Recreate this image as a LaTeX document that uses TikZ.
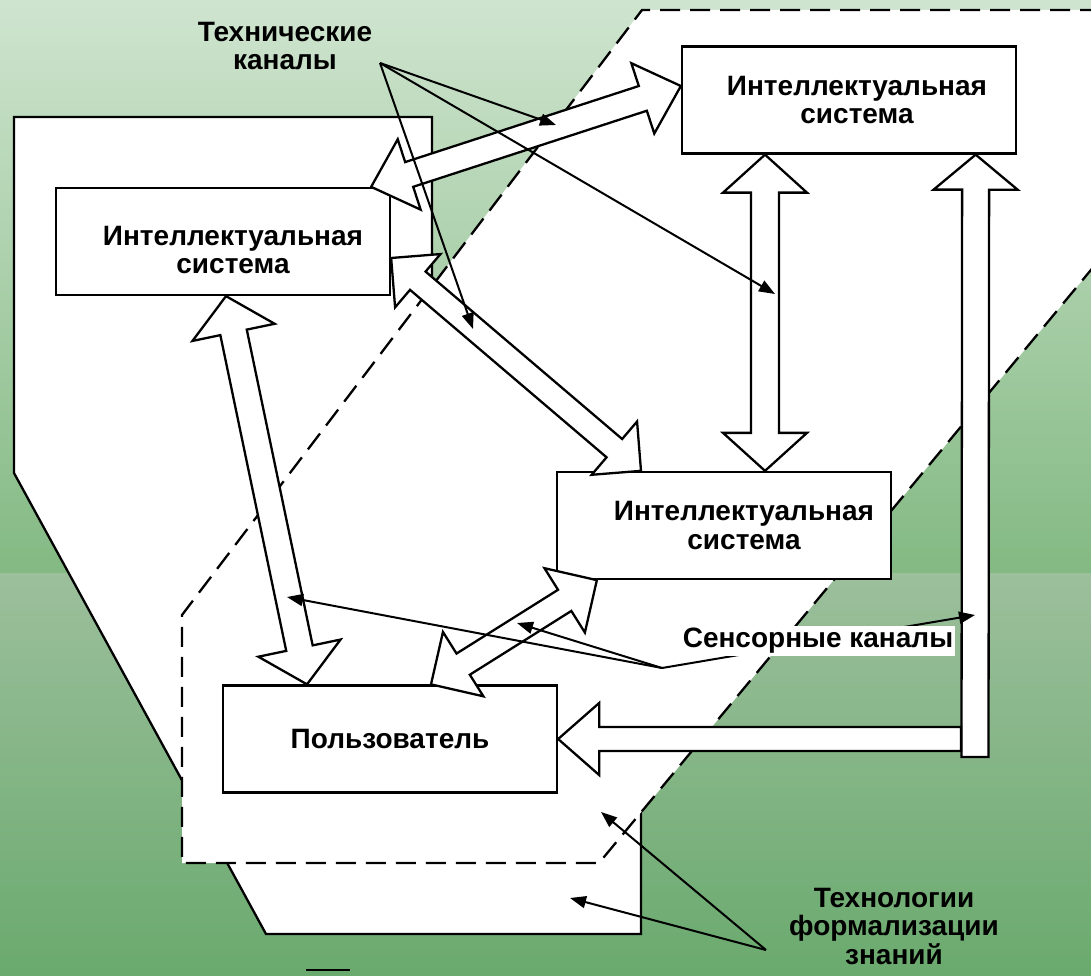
\documentclass[tikz,border=0pt]{standalone}
\usepackage{fontspec}
\setmainfont{Liberation Sans}
\usetikzlibrary{calc,arrows.meta}

\definecolor{bgtop}{RGB}{207,228,207}
\definecolor{bgmid}{RGB}{131,185,131}
\definecolor{bglow}{RGB}{156,191,156}
\definecolor{bgbot}{RGB}{106,170,110}

\newcommand{\capfont}{\fontsize{28}{28.5}\selectfont\bfseries}

% double block arrow: end, end, half shaft, half head, head length
\newcommand{\dblarrow}[5]{%
  \filldraw[blockarrow] (#1)
    -- ($(#1)!#5!(#2)!#4!90:(#2)$) -- ($(#1)!#5!(#2)!#3!90:(#2)$)
    -- ($(#2)!#5!(#1)!#3!-90:(#1)$) -- ($(#2)!#5!(#1)!#4!-90:(#1)$)
    -- (#2)
    -- ($(#2)!#5!(#1)!#4!90:(#1)$) -- ($(#2)!#5!(#1)!#3!90:(#1)$)
    -- ($(#1)!#5!(#2)!#3!-90:(#2)$) -- ($(#1)!#5!(#2)!#4!-90:(#2)$)
    -- cycle;}
% single block arrow: tail, tip, half shaft, half head, head length
\newcommand{\onearrow}[5]{%
  \filldraw[blockarrow] ($(#1)!#3!90:(#2)$)
    -- ($(#2)!#5!(#1)!#3!-90:(#1)$) -- ($(#2)!#5!(#1)!#4!-90:(#1)$)
    -- (#2)
    -- ($(#2)!#5!(#1)!#4!90:(#1)$) -- ($(#2)!#5!(#1)!#3!90:(#1)$)
    -- ($(#1)!#3!-90:(#2)$) -- cycle;}

\begin{document}
\begin{tikzpicture}[x=1pt,y=-1pt,
  box/.style={draw,fill=white,line width=2.3pt,minimum width=334pt,minimum height=107pt,align=center,font=\capfont},
  blockarrow/.style={draw=black,fill=white,line width=2.3pt},
  pointer/.style={line width=2pt,-{Triangle[length=16pt,width=12pt]}},
  lbl/.style={align=center,font=\capfont,inner sep=1pt}]
\clip (0,0) rectangle (1091,976);

% background
\shade[top color=bgtop,bottom color=bgmid] (0,0) rectangle (1091,573);
\shade[top color=bglow,bottom color=bgbot] (0,573) rectangle (1091,976);

% outer area (solid)
\filldraw[fill=white,line width=2.3pt] (14,117) -- (432,117) -- (432,400) -- (641,700)
  -- (641,934) -- (266,934) -- (14,473) -- cycle;
% inner area (dashed)
\fill[white] (642,10) -- (1100,10) -- (1100,259) -- (599,863) -- (182,863) -- (182,615) -- cycle;
\draw[line width=2.3pt,dash pattern=on 20pt off 10pt] (1100,10) -- (642,10) -- (182,615)
  -- (182,863) -- (599,863) -- (1100,259);

% systems and user
\node[box] (is1) at (223,241.5) {\rule{0pt}{36pt}\hspace*{20pt}Интеллектуальная\\\hspace*{20pt}система};
\node[box] (is2) at (849,100) {\hspace*{16pt}Интеллектуальная\\\hspace*{16pt}система};
\node[box] (is3) at (724,525.5) {\hspace*{40pt}Интеллектуальная\\\hspace*{40pt}система};
\node[box] (user) at (390,739) {Пользователь};

% arrow ends
\coordinate (a1) at ($(is1.north east)+(-20,0)$);
\coordinate (b1) at ($(is2.west)+(0,-14)$);
\coordinate (a2) at ($(is1.south)+(3,0)$);
\coordinate (b2) at ($(user.north)+(-83,0)$);
\coordinate (a3) at ($(is1.east)+(0,16.5)$);
\coordinate (b3) at ($(is3.north)+(-83,0)$);
\coordinate (a4) at ($(is2.south)+(-84,0)$);
\coordinate (b4) at ($(is3.north)+(41,0)$);
\coordinate (a5) at ($(is3.south west)+(41,0)$);
\coordinate (b5) at ($(user.north)+(41,0)$);
\coordinate (a6) at ($(is2.south east)+(-41.5,0)$);
\coordinate (bar) at (975,757);
\coordinate (a7) at (961,739);

\dblarrow{a1}{b1}{13pt}{37pt}{40pt}
\dblarrow{a2}{b2}{13.5pt}{42pt}{37pt}
\dblarrow{a3}{b3}{12pt}{35pt}{35pt}
\dblarrow{a4}{b4}{14pt}{42pt}{38pt}
\dblarrow{a5}{b5}{12.5pt}{38pt}{38pt}
\onearrow{bar}{a6}{13.5pt}{42pt}{35pt}
\onearrow{a7}{user.east}{12pt}{36pt}{41pt}

% pointers
\coordinate (tc) at (380,63);
\coordinate (tc1) at (556,125);
\coordinate (tc2) at (775,294);
\coordinate (tc3) at (473,329);
\coordinate (sc) at (662,668);
\coordinate (sc1) at (287,597);
\coordinate (sc2) at (517,623);
\coordinate (sc3) at (975,615);
\coordinate (fc) at (766,950);
\coordinate (fc1) at (601,812);
\coordinate (fc2) at (570,898);

\path[pointer] (tc) edge (tc1)
                    edge (tc2)
                    edge (tc3)
               (sc) edge (sc1)
                    edge (sc2)
                    edge (sc3)
               (fc) edge (fc1)
                    edge (fc2);

% labels
\node[lbl] (tech) at (285,46) {Технические\\каналы};
\node[lbl,fill=white,inner sep=2pt] (sens) at (818,641) {Сенсорные каналы};
\node[lbl] (formal) at (894,926) {Технологии\\формализации\\знаний};

\draw[line width=2.3pt] (306,970) -- (350,970);
\end{tikzpicture}
\end{document}
